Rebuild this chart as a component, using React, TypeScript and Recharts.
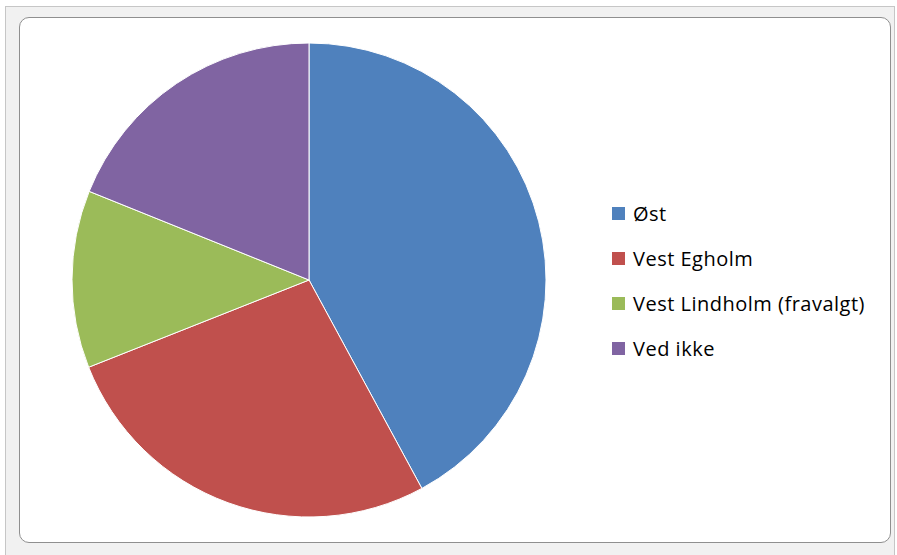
import React from 'react';
import { PieChart, Pie, Cell, Legend } from 'recharts';

const categories = ['Øst', 'Vest Egholm', 'Vest Lindholm (fravalgt)', 'Ved ikke'];
const shares = [42.1, 26.9, 12.1, 18.9];
const colors = ['#4F81BD', '#C0504D', '#9BBB59', '#8064A2'];

const data = categories.map((name, i) => ({ name, value: shares[i] }));

function renderLegend() {
  return (
    <div
      style={{
        fontFamily: '"Open Sans", sans-serif',
        fontSize: 20,
        letterSpacing: 0.5,
        color: '#000',
      }}
    >
      {categories.map((name, i) => (
        <div key={name} style={{ display: 'flex', alignItems: 'center', height: 45 }}>
          <span
            style={{
              display: 'inline-block',
              width: 13,
              height: 13,
              background: colors[i],
              marginRight: 8,
            }}
          />
          <span>{name}</span>
        </div>
      ))}
    </div>
  );
}

export default function App() {
  return (
    <div
      style={{
        position: 'absolute',
        left: 0,
        top: 0,
        width: 897,
        height: 555,
        background: '#fff',
        overflow: 'hidden',
      }}
    >
      {/* Excel-like outer frame */}
      <div
        style={{
          position: 'absolute',
          left: 5,
          top: 6,
          width: 888,
          height: 560,
          border: '1px solid #c6c6c6',
          background: '#f1f1f1',
        }}
      />
      <div
        style={{
          position: 'absolute',
          left: 19,
          top: 17,
          width: 870,
          height: 524,
          border: '1.5px solid #8f8f8f',
          borderRadius: 10,
          background: '#fff',
        }}
      />
      <div style={{ position: 'absolute', left: 0, top: 0 }}>
        <PieChart width={897} height={555} margin={{ top: 0, right: 0, bottom: 0, left: 0 }}>
          <Pie
            data={data}
            dataKey="value"
            nameKey="name"
            cx={309}
            cy={280}
            outerRadius={237}
            startAngle={90}
            endAngle={-270}
            stroke="#ffffff"
            strokeWidth={1}
            isAnimationActive={false}
          >
            {data.map((d, i) => (
              <Cell key={d.name} fill={colors[i]} />
            ))}
          </Pie>
          <Legend
            layout="vertical"
            content={renderLegend}
            wrapperStyle={{ left: 612, top: 191, width: 290 }}
          />
        </PieChart>
      </div>
    </div>
  );
}
